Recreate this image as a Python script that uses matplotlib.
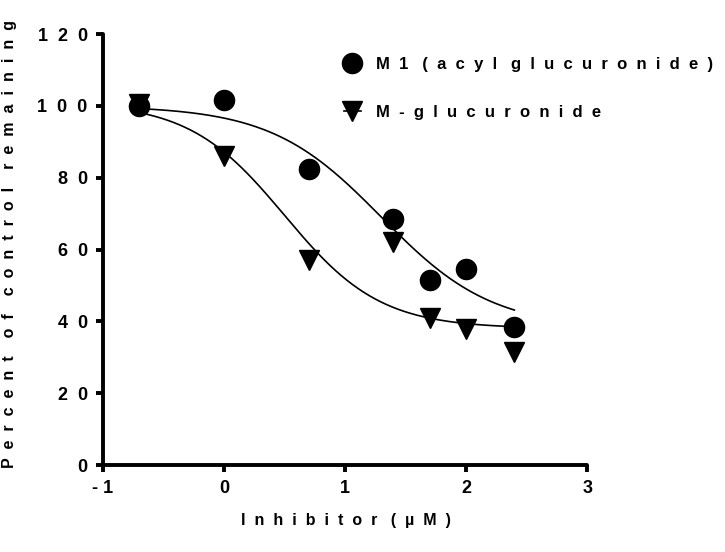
import numpy as np
import matplotlib
matplotlib.use("Agg")
import matplotlib.pyplot as plt

plt.rcParams['font.family'] = ['Liberation Sans', 'DejaVu Sans']
plt.rcParams['font.weight'] = 'bold'

# log10 inhibitor concentration (µM)
log_conc = [-0.699, 0.0, 0.699, 1.398, 1.699, 2.0, 2.398]
m1_acyl = [100, 101.5, 82.5, 68.5, 51.5, 54.5, 38.5]
m_gluc = [100.5, 86, 57, 62, 41, 38, 31.5]

# fitted sigmoid parameters (top, bottom, logIC50, hill)
fit_m1 = (100, 38, 1.30, 0.95)
fit_mg = (101, 38, 0.50, 1.10)

xticks = [-1, 0, 1, 2, 3]
yticks = [0, 20, 40, 60, 80, 100, 120]

series_names = ["M1 (acyl glucuronide)", "M-glucuronide"]
ylabel_text = "Percent of control remaining"
xlabel_text = "Inhibitor (\u00b5M)"


def spaced(s, sep="  ", wordsep="   "):
    return wordsep.join(sep.join(list(w)) for w in s.split(" "))


def sigmoid(x, p):
    top, bottom, c, h = p
    return bottom + (top - bottom) / (1 + 10 ** ((x - c) * h))


fig = plt.figure(figsize=(7.25, 5.52), dpi=100)
ax = fig.add_axes([0.142, 0.1576, 0.668, 0.7808])

xs = np.linspace(log_conc[0], log_conc[-1], 200)
ax.plot(xs, sigmoid(xs, fit_m1), color='black', lw=1.2, zorder=2)
ax.plot(xs, sigmoid(xs, fit_mg), color='black', lw=1.2, zorder=2)

ax.plot(log_conc, m1_acyl, linestyle='none', marker='o', ms=14.5, color='black',
        clip_on=False, zorder=3)
ax.plot(log_conc, m_gluc, linestyle='none', marker='v', ms=14.5, color='black',
        clip_on=False, zorder=3)

# legend handles
h1, = ax.plot([], [], marker='o', ms=14.5, color='black', lw=1.2)
h2, = ax.plot([], [], marker='v', ms=14.5, color='black', lw=1.2)
leg = fig.legend([h1, h2], [spaced(n) for n in series_names],
                 loc='upper left', bbox_to_anchor=(344 / 725, 1 - 57 / 552),
                 frameon=False, borderpad=0, borderaxespad=0,
                 handlelength=1.0, handletextpad=0.9, labelspacing=2.0,
                 prop={'weight': 'bold', 'size': 12})

ax.set_xlim(-1, 3)
ax.set_ylim(0, 120)
ax.set_xticks(xticks)
ax.set_yticks(yticks)
ax.set_xticklabels([spaced(str(t), " ") for t in xticks])
ax.set_yticklabels([spaced(str(t)) for t in yticks])

for s in ['top', 'right']:
    ax.spines[s].set_visible(False)
for s in ['left', 'bottom']:
    ax.spines[s].set_linewidth(2.8)
    ax.spines[s].set_capstyle('round')
ax.tick_params(axis='both', direction='out', length=5, width=2.8,
               labelsize=13, pad=6)
for lab in ax.get_xticklabels() + ax.get_yticklabels():
    lab.set_fontweight('bold')

ax.set_ylabel(spaced(ylabel_text, "  ", "    "), fontsize=11.5, fontweight='bold')
ax.yaxis.set_label_coords(-0.178, 0.513)
ax.set_xlabel(spaced(xlabel_text), fontsize=11.5, fontweight='bold')
ax.xaxis.set_label_coords(0.502, -0.112)

fig.savefig("out.png", dpi=100)
